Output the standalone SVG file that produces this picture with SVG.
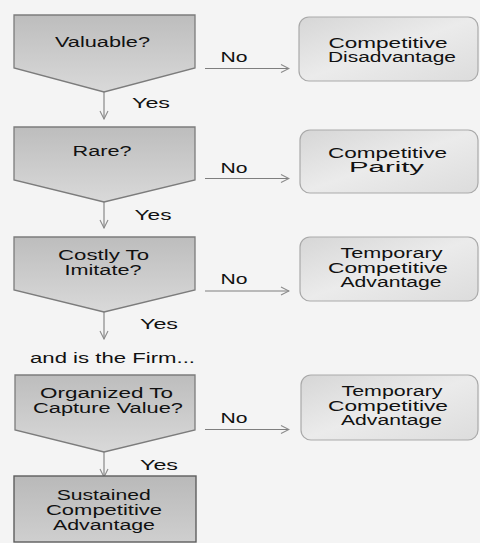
<svg xmlns="http://www.w3.org/2000/svg" width="480" height="543" viewBox="0 0 480 543">
<defs>
<linearGradient id="gq" x1="0" y1="0" x2="0" y2="1"><stop offset="0" stop-color="#bdbdbd"/><stop offset="1" stop-color="#d9d9d9"/></linearGradient>
<linearGradient id="gr" x1="0" y1="0" x2="1" y2="1"><stop offset="0" stop-color="#d6d6d6"/><stop offset="0.5" stop-color="#ebebeb"/><stop offset="1" stop-color="#dcdcdc"/></linearGradient>
<linearGradient id="gs" x1="0" y1="0" x2="0" y2="1"><stop offset="0" stop-color="#b9b9b9"/><stop offset="1" stop-color="#cfcfcf"/></linearGradient>
<marker id="ah" viewBox="0 0 10 10" refX="9" refY="5" markerWidth="10" markerHeight="10" markerUnits="userSpaceOnUse" orient="auto"><path d="M1,1 L9,5 L1,9" fill="none" stroke="#8a8a8a" stroke-width="1.1"/></marker>
</defs>
<style>
text{font-family:"Liberation Sans",Arial,sans-serif;font-size:14px;fill:#111;text-anchor:middle}
.q{fill:url(#gq);stroke:#7c7c7c;stroke-width:1.3}
.r{fill:url(#gr);stroke:#a9a9a9;stroke-width:1.2}
.s{fill:url(#gs);stroke:#5e5e5e;stroke-width:1.4}
.c{stroke:#7e7e7e;stroke-width:1.1;fill:none;marker-end:url(#ah)}
</style>
<rect width="480" height="543" fill="#f4f4f4"/>
<g id="connectors">
<line class="c" x1="104" y1="92" x2="104" y2="119"/>
<line class="c" x1="104" y1="202" x2="104" y2="228"/>
<line class="c" x1="104" y1="312" x2="104" y2="339"/>
<line class="c" x1="104" y1="452" x2="104" y2="477"/>
<line class="c" x1="205" y1="68.5" x2="289" y2="68.5"/>
<line class="c" x1="205" y1="178.5" x2="289" y2="178.5"/>
<line class="c" x1="205" y1="291" x2="289" y2="291"/>
<line class="c" x1="205" y1="429.5" x2="289" y2="429.5"/>
<text x="234" y="62" textLength="27" lengthAdjust="spacingAndGlyphs">No</text>
<text x="234" y="173" textLength="27" lengthAdjust="spacingAndGlyphs">No</text>
<text x="234" y="284" textLength="27" lengthAdjust="spacingAndGlyphs">No</text>
<text x="234" y="423" textLength="27" lengthAdjust="spacingAndGlyphs">No</text>
<text x="151" y="108" textLength="38" lengthAdjust="spacingAndGlyphs">Yes</text>
<text x="153" y="220" textLength="37" lengthAdjust="spacingAndGlyphs">Yes</text>
<text x="159" y="329" textLength="38" lengthAdjust="spacingAndGlyphs">Yes</text>
<text x="159" y="470" textLength="38" lengthAdjust="spacingAndGlyphs">Yes</text>
</g>
<g id="q1"><path class="q" d="M14,15 H195 V68 L104,92 L14,68 Z"/>
<text x="102.5" y="47" textLength="95" lengthAdjust="spacingAndGlyphs">Valuable?</text></g>
<g id="q2"><path class="q" d="M14,127 H195 V180 L104,202 L14,180 Z"/>
<text x="102" y="156" textLength="59" lengthAdjust="spacingAndGlyphs">Rare?</text></g>
<g id="q3"><path class="q" d="M14,237 H195 V290 L104,312 L14,290 Z"/>
<text x="103.5" y="260" textLength="91" lengthAdjust="spacingAndGlyphs">Costly To</text>
<text x="103" y="274.5" textLength="77" lengthAdjust="spacingAndGlyphs">Imitate?</text></g>
<text id="firm" x="112.5" y="362.5" textLength="165" lengthAdjust="spacingAndGlyphs">and is the Firm...</text>
<g id="q4"><path class="q" d="M15,375 H195 V430 L104,452 L15,430 Z"/>
<text x="106.5" y="398" textLength="133" lengthAdjust="spacingAndGlyphs">Organized To</text>
<text x="108" y="413" textLength="150" lengthAdjust="spacingAndGlyphs">Capture Value?</text></g>
<g id="sustained"><rect class="s" x="14" y="476" width="182" height="66"/>
<text x="103.7" y="500" textLength="94" lengthAdjust="spacingAndGlyphs">Sustained</text>
<text x="104" y="515" textLength="116" lengthAdjust="spacingAndGlyphs">Competitive</text>
<text x="104" y="530" textLength="102" lengthAdjust="spacingAndGlyphs">Advantage</text></g>
<g id="r1"><rect class="r" x="299" y="17" width="179" height="64" rx="10"/>
<text x="388" y="47.5" textLength="119" lengthAdjust="spacingAndGlyphs">Competitive</text>
<text x="392" y="62" textLength="128" lengthAdjust="spacingAndGlyphs">Disadvantage</text></g>
<g id="r2"><rect class="r" x="300" y="130" width="178" height="63" rx="10"/>
<text x="387.5" y="157.5" textLength="119" lengthAdjust="spacingAndGlyphs">Competitive</text>
<text x="386.5" y="172" textLength="75" lengthAdjust="spacingAndGlyphs">Parity</text></g>
<g id="r3"><rect class="r" x="300" y="237" width="178" height="64" rx="10"/>
<text x="391.5" y="258" textLength="102" lengthAdjust="spacingAndGlyphs">Temporary</text>
<text x="388" y="272.5" textLength="120" lengthAdjust="spacingAndGlyphs">Competitive</text>
<text x="391" y="287" textLength="101" lengthAdjust="spacingAndGlyphs">Advantage</text></g>
<g id="r4"><rect class="r" x="301" y="375" width="177" height="65" rx="10"/>
<text x="392" y="396" textLength="101" lengthAdjust="spacingAndGlyphs">Temporary</text>
<text x="388" y="410.5" textLength="120" lengthAdjust="spacingAndGlyphs">Competitive</text>
<text x="391.5" y="425" textLength="101" lengthAdjust="spacingAndGlyphs">Advantage</text></g>
</svg>
